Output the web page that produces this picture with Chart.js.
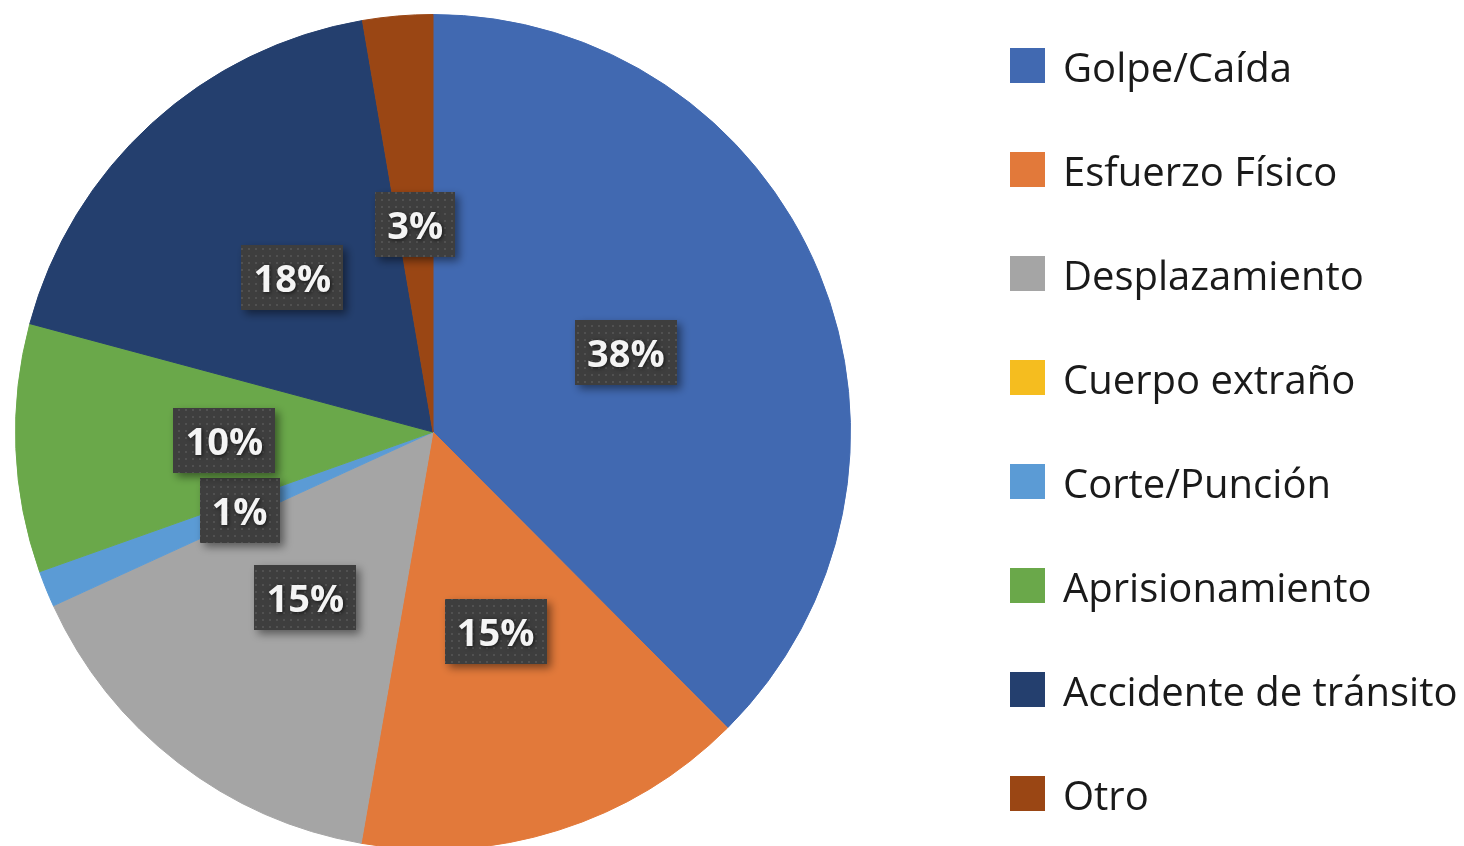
<!DOCTYPE html>
<html lang="es">
<head>
<meta charset="utf-8">
<title>Tipo de accidente</title>
<script src="https://cdn.jsdelivr.net/npm/chart.js@4.4.1/dist/chart.umd.min.js"></script>
<style>
  html, body { margin: 0; padding: 0; background: #fff; overflow: hidden; }
  #wrap { position: relative; width: 1464px; height: 864px; }
  #legend {
    position: absolute; left: 1010px; top: 13px;
    margin: 0; padding: 0; list-style: none;
    font-family: "Open Sans", sans-serif; font-size: 40px; color: #1a1a1a;
  }
  #legend li { display: flex; align-items: center; height: 104px; white-space: nowrap; }
  #legend .box { width: 35px; height: 35px; margin-right: 18px; flex: none; }
  #legend .txt { line-height: 40px; position: relative; top: 2px; }
</style>
</head>
<body>
<div id="wrap">
  <canvas id="accidentPie" width="1464" height="864"></canvas>
  <ul id="legend"></ul>
</div>
<script>
const categories = [
  "Golpe/Caída",
  "Esfuerzo Físico",
  "Desplazamiento",
  "Cuerpo extraño",
  "Corte/Punción",
  "Aprisionamiento",
  "Accidente de tránsito",
  "Otro",
];
const shares = [37.5, 15.2, 15.4, 0, 1.4, 9.6, 18.1, 2.7];
const sliceColors = ["#4169b1", "#e2793a", "#a5a5a5", "#f5bd1f", "#5b9bd5", "#6aa84a", "#243f6e", "#9a4614"];

function makeDotPattern(ctx) {
  const tile = document.createElement("canvas");
  tile.width = 7;
  tile.height = 7;
  const t = tile.getContext("2d");
  t.fillStyle = "#3e3e3e";
  t.fillRect(0, 0, 7, 7);
  t.fillStyle = "#515151";
  t.fillRect(3, 3, 2, 2);
  return ctx.createPattern(tile, "repeat");
}

// dark percentage boxes at the middle of each slice
const pctBoxes = {
  id: "pctBoxes",
  afterDatasetsDraw(chart) {
    const { ctx } = chart;
    const meta = chart.getDatasetMeta(0);
    const values = chart.data.datasets[0].data;
    const total = values.reduce((a, b) => a + b, 0);
    const pattern = makeDotPattern(ctx);
    ctx.save();
    ctx.font = 'bold 38px "Open Sans", sans-serif';
    ctx.textAlign = "center";
    ctx.textBaseline = "alphabetic";
    meta.data.forEach((arc, i) => {
      if (!values[i]) return;
      const text = Math.round((values[i] / total) * 100) + "%";
      const { x, y } = arc.tooltipPosition();
      const w = Math.round(ctx.measureText(text).width + 24);
      const h = 65;
      const left = Math.round(x - w / 2);
      const top = Math.round(y - h / 2);

      ctx.shadowColor = "rgba(0, 0, 0, 0.45)";
      ctx.shadowBlur = 8;
      ctx.shadowOffsetX = 4;
      ctx.shadowOffsetY = 4;
      ctx.fillStyle = pattern;
      ctx.fillRect(left, top, w, h);

      ctx.shadowColor = "rgba(0, 0, 0, 0.7)";
      ctx.shadowBlur = 4;
      ctx.shadowOffsetX = 1;
      ctx.shadowOffsetY = 1;
      ctx.fillStyle = "#f4f4f4";
      ctx.fillText(text, x, top + h / 2 + 14);
    });
    ctx.restore();
  },
};

// legend rendered as html next to the chart
const htmlLegend = {
  id: "htmlLegend",
  afterUpdate(chart) {
    const ul = document.getElementById("legend");
    ul.innerHTML = "";
    const items = chart.options.plugins.legend.labels.generateLabels(chart);
    items.forEach((item) => {
      const li = document.createElement("li");
      const box = document.createElement("span");
      box.className = "box";
      box.style.background = item.fillStyle;
      const txt = document.createElement("span");
      txt.className = "txt";
      txt.textContent = item.text;
      li.appendChild(box);
      li.appendChild(txt);
      ul.appendChild(li);
    });
  },
};

new Chart(document.getElementById("accidentPie"), {
  type: "pie",
  data: {
    labels: categories,
    datasets: [
      {
        data: shares,
        backgroundColor: sliceColors,
        borderColor: sliceColors,
        borderWidth: 1,
        hoverOffset: 0,
      },
    ],
  },
  options: {
    responsive: false,
    animation: false,
    layout: { padding: { left: 15, top: 14, right: 613, bottom: 14 } },
    plugins: {
      legend: { display: false },
      tooltip: { enabled: false },
    },
  },
  plugins: [pctBoxes, htmlLegend],
});
</script>
</body>
</html>
